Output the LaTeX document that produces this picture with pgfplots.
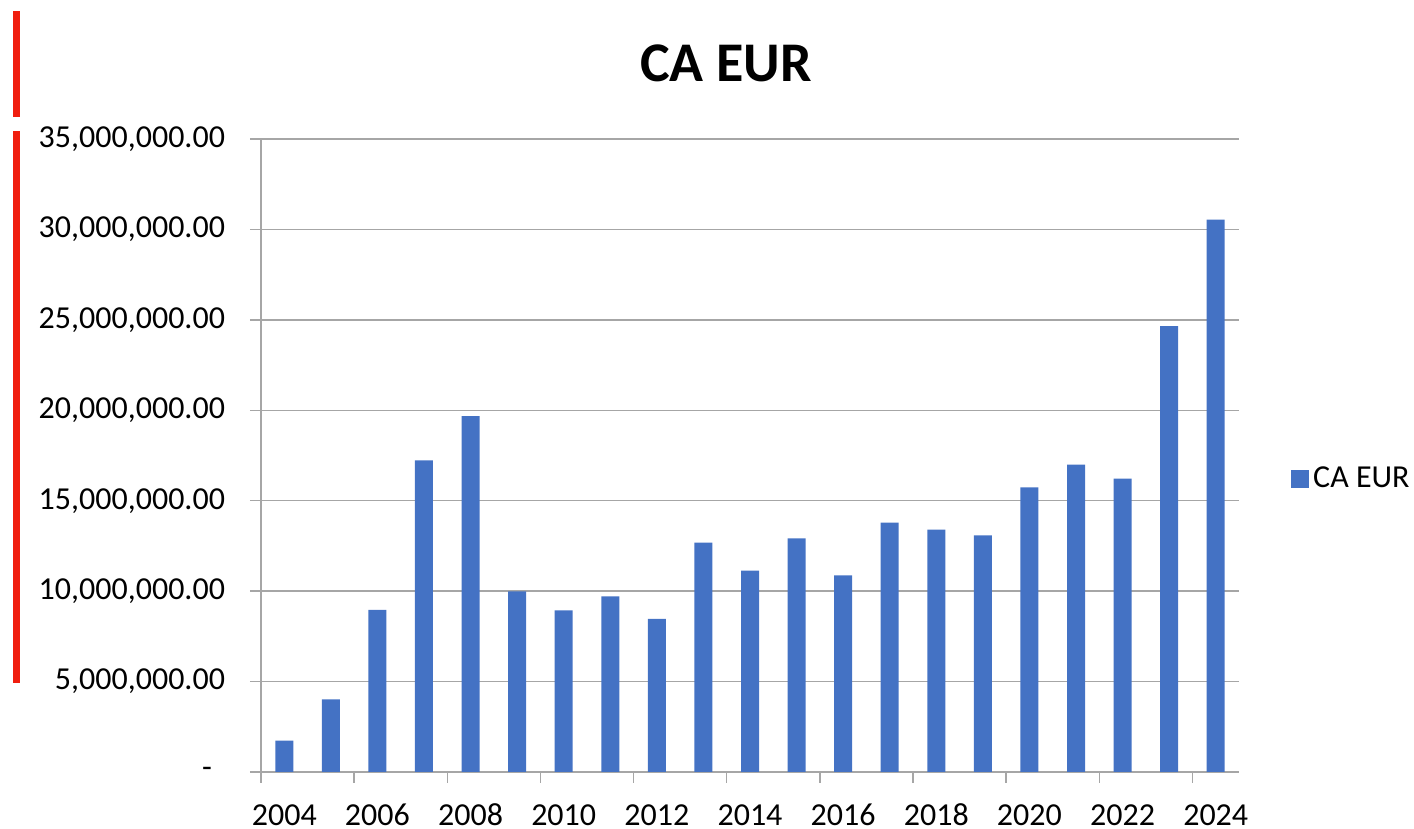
\documentclass[border=0pt]{standalone}
\usepackage{fontspec}
\setmainfont{Carlito}
\usepackage{pgfplots}
\pgfplotsset{compat=1.18}
\definecolor{barblue}{RGB}{68,114,196}
\definecolor{gridgray}{RGB}{166,166,166}
\definecolor{markred}{RGB}{240,30,15}

\pgfplotstableread{
idx year value
0  2004 1730000
1  2005 4020000
2  2006 8960000
3  2007 17230000
4  2008 19670000
5  2009 9990000
6  2010 8940000
7  2011 9710000
8  2012 8460000
9  2013 12680000
10 2014 11130000
11 2015 12920000
12 2016 10870000
13 2017 13790000
14 2018 13400000
15 2019 13090000
16 2020 15740000
17 2021 16990000
18 2022 16220000
19 2023 24660000
20 2024 30540000
}\caeur

\begin{document}
\begin{tikzpicture}
\useasboundingbox (-130.5pt,-28.5pt) rectangle (576.5pt,386pt);
% red marks down the left edge of the screenshot
\fill[markred] (-124pt,327.5pt) rectangle (-120.5pt,380.5pt);
\fill[markred] (-124pt,44.5pt) rectangle (-120.5pt,320.5pt);
\begin{axis}[
  scale only axis,
  width=489pt, height=316.5pt,
  ybar, bar width=9pt,
  xmin=-0.5, xmax=20.5,
  ymin=0, ymax=35000000,
  axis x line=bottom, axis y line=left,
  axis line style={-, gridgray, line width=0.7pt},
  tick align=outside,
  tick style={gridgray, line width=0.7pt},
  major tick length=5.5pt,
  % ticks sit on category boundaries, labels on the even years
  xtick={-0.5,1.5,...,19.5},
  xticklabels={2004,2006,2008,2010,2012,2014,2016,2018,2020,2022,2024},
  xticklabel style={xshift=11.64pt, anchor=north, inner sep=0pt, text height=11.5pt, text depth=0pt, yshift=-9.5pt},
  ytick={0,5000000,...,35000000},
  yticklabels={{-\kern6.5pt},{5,000,000.00},{10,000,000.00},{15,000,000.00},{20,000,000.00},{25,000,000.00},{30,000,000.00},{35,000,000.00}},
  scaled y ticks=false,
  ymajorgrids,
  grid style={gridgray, line width=0.7pt},
  ticklabel style={font=\fontsize{16}{19}\selectfont},
  yticklabel style={xshift=-9pt},
  title={CA EUR},
  title style={at={(axis description cs:0.4755,1.072)}, anchor=base,
    font=\fontsize{28}{33}\selectfont\bfseries},
  legend style={at={(axis description cs:1.053,0.463)}, anchor=west,
    draw=none, fill=none, inner sep=0pt,
    font=\fontsize{16}{19}\selectfont},
  legend image code/.code={\fill[#1] (0pt,-4.5pt) rectangle (9pt,4.5pt);},
]
\addplot[fill=barblue, draw=none] table[x=idx, y=value] {\caeur};
\addlegendentry{CA EUR}
\end{axis}
\end{tikzpicture}
\end{document}
